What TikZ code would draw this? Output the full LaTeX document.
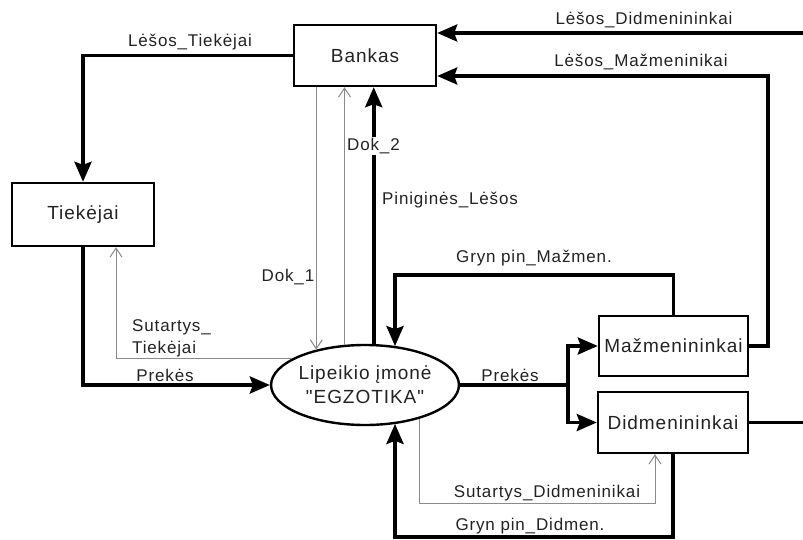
\documentclass[tikz,border=0pt]{standalone}
\usepackage{fontspec}
\setmainfont{Liberation Sans}[LetterSpace=5, Ligatures=TeXOff]
\usetikzlibrary{arrows.meta,shapes.geometric}
\definecolor{thingray}{HTML}{8A8A8A}
\definecolor{txt}{HTML}{222222}
\tikzset{
  boxnode/.style={draw=black, line width=2.4pt, rectangle, inner sep=0pt, font=\fontsize{19}{22}\selectfont, text=txt},
  ellnode/.style={draw=black, line width=2.4pt, ellipse, inner sep=0pt, minimum width=180pt, minimum height=80pt, align=center, font=\fontsize{19}{24}\selectfont, text=txt},
  flow/.style={line width=3.6pt, -{Stealth[length=20pt,width=17pt,inset=3pt]}},
  flowplain/.style={line width=3.6pt},
  doc/.style={draw=thingray, line width=1pt, -{Straight Barb[length=9pt,width=12pt]}},
  lbl/.style={font=\fontsize{17}{21}\selectfont, text=txt, inner sep=1pt}
}
\begin{document}
\begin{tikzpicture}[x=1pt,y=-1pt]
\useasboundingbox (0,0) rectangle (803,540);
% nodes
\node[boxnode, minimum width=142pt, minimum height=61pt] (bank) at (365,55.5) {Bankas};
\node[boxnode, minimum width=142pt, minimum height=63pt] (tiek) at (83,214.5) {Tiekėjai};
\node[boxnode, minimum width=149pt, minimum height=60pt] (maz) at (673.5,346) {Mažmenininkai};
\node[boxnode, minimum width=150pt, minimum height=61pt] (did) at (673,422.5) {Didmenininkai};
\node[ellnode] (ell) at (365,385) {Lipeikio įmonė\\"EGZOTIKA"};
% helper coordinates
\coordinate (ldin) at (803,33);
\coordinate (lm) at (768,76);
\coordinate (gm) at (395,275);
\coordinate (pr) at (568,385);
\coordinate (stx) at (116,0);
\coordinate (sd) at (655,503);
\coordinate (gd) at (395,537);
% thick flows
\draw[flow] (bank.west) -| (tiek.north);
\draw[flow] (ldin) -- (ldin -| bank.east);
\draw[flowplain] (did.east) -- (did.east -| ldin);
\draw[flow] (maz.east) -- (maz.east -| lm) -- (lm) -- (lm -| bank.east);
\draw[flow] (maz.north) |- (gm) -- (gm |- ell.51.5);
\draw[flowplain] (ell.east) -- (pr);
\draw[flow] (pr) |- (maz.west);
\draw[flow] (pr) |- (did.west);
\draw[flow] (tiek.south) |- (ell.west);
\draw[flow] (did.south) |- (gd) -- (gd |- ell.-51.5);
\draw[flow] (ell.78.6) -- (ell.78.6 |- bank.south);
% thin document flows
\draw[doc] (bank.south -| ell.144) -- (ell.144);
\draw[doc] (ell.117.1) -- (ell.117.1 |- bank.south);
\draw[doc] (ell.160.4) -| (stx |- tiek.south);
\draw[doc] (ell.-32.1) |- (sd) -- (sd |- did.south);
% labels
\node[lbl] (l1) at (190,42) {Lėšos\_Tiekėjai};
\node[lbl] (l2) at (644,20) {Lėšos\_Didmenininkai};
\node[lbl] (l3) at (641,62) {Lėšos\_Mažmeninikai};
\node[lbl, fill=white] (l4) at (373.5,146) {Dok\_2};
\node[lbl, anchor=west] (l5) at (381,200) {Piniginės\_Lėšos};
\node[lbl] (l6) at (288,277) {Dok\_1};
\node[lbl, anchor=west, align=left, font=\fontsize{17}{22}\selectfont] (l7) at (131,338) {Sutartys\_\\Tiekėjai};
\node[lbl] (l8) at (165,375) {Prekės};
\node[lbl] (l9) at (534,258) {Gryn pin\_Mažmen.};
\node[lbl] (l10) at (510,375) {Prekės};
\node[lbl] (l11) at (547,493) {Sutartys\_Didmeninikai};
\node[lbl] (l12) at (530,526) {Gryn pin\_Didmen.};
\end{tikzpicture}
\end{document}
